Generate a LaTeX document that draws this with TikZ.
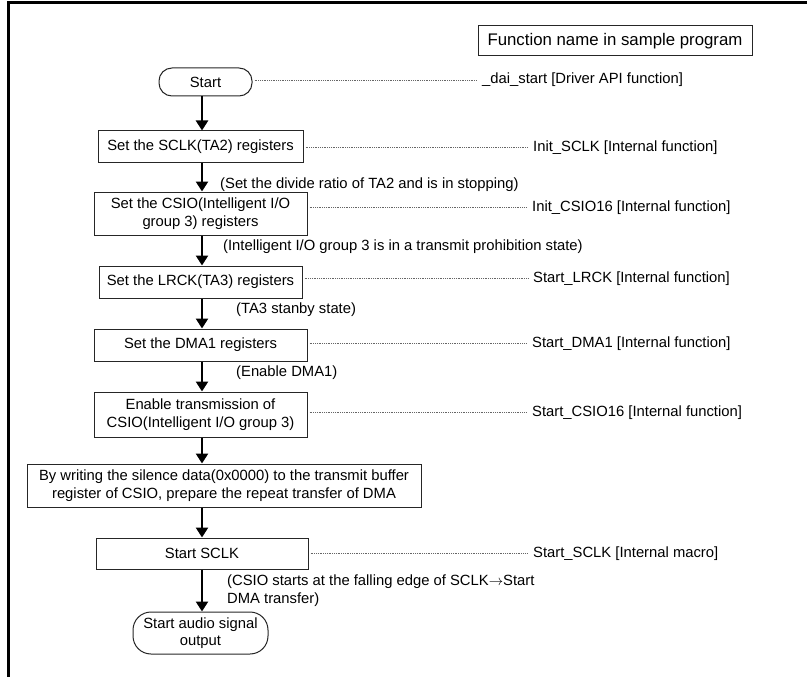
\documentclass[tikz,border=0pt]{standalone}
\usepackage{fontspec}
\setmainfont{Liberation Sans}
\usetikzlibrary{arrows.meta}
\newcommand\diagfont{\fontsize{14.8}{17.5}\selectfont}
\newcommand\legendfont{\fontsize{16.8}{20}\selectfont}
\begin{document}
\begin{tikzpicture}[x=1pt,y=-1pt,
  every node/.style={font=\diagfont, inner sep=0pt},
  stepbox/.style={draw=black!85, line width=1pt, align=center},
  termbox/.style={draw=black!85, line width=1pt, align=center},
  fname/.style={anchor=base west},
  note/.style={anchor=base west},
  flow/.style={line width=2.8pt, -{Triangle[length=10pt,width=12pt]}},
  leader/.style={draw=black!60, line width=0.6pt, dash pattern=on 0.7pt off 1.1pt,
                 shorten <=2pt, shorten >=5pt}]

\useasboundingbox (0,0) rectangle (807,677);
\clip (0,0) rectangle (807,677);

% outer frame (runs past the right and bottom edges)
\draw[line width=3pt] (8,3) rectangle (860,730);

% legend box
\node[draw=black!85, line width=1pt, minimum width=274pt, minimum height=30pt,
      font=\legendfont]
  (legend) at (615,41) {Function name in sample program};

% flow chart steps
\node[termbox, rounded corners=13pt, minimum width=93pt, minimum height=28pt]
  (start) at (205.5,82) {Start};
\node[stepbox, minimum width=205pt, minimum height=31pt]
  (sclk) at (200.5,146.5) {Set the SCLK(TA2) registers};
\node[stepbox, minimum width=213pt, minimum height=43pt]
  (csio) at (200.5,213.5) {Set the CSIO(Intelligent I/O\\group 3) registers};
\node[stepbox, minimum width=203pt, minimum height=32pt]
  (lrck) at (200.5,282) {Set the LRCK(TA3) registers};
\node[stepbox, minimum width=213pt, minimum height=32pt]
  (dma) at (200.5,345) {Set the DMA1 registers};
\node[stepbox, minimum width=213pt, minimum height=45pt]
  (enable) at (200.5,414.5) {Enable transmission of\\CSIO(Intelligent I/O group 3)};
\node[stepbox, minimum width=394pt, minimum height=43pt]
  (silence) at (224,485.5) {By writing the silence data(0x0000) to the transmit buffer\\register of CSIO, prepare the repeat transfer of DMA};
\node[stepbox, minimum width=212pt, minimum height=31pt]
  (startsclk) at (202,553.5) {Start SCLK};
\node[termbox, rounded corners=18pt, minimum width=135pt, minimum height=42pt]
  (output) at (200.5,633) {Start audio signal\\output};

% flow arrows
\coordinate (axis) at (202,0);
\draw[flow] (start.south -| axis) -- (sclk.north -| axis);
\draw[flow] (sclk.south -| axis) -- (csio.north -| axis);
\draw[flow] (csio.south -| axis) -- (lrck.north -| axis);
\draw[flow] (lrck.south -| axis) -- (dma.north -| axis);
\draw[flow] (dma.south -| axis) -- (enable.north -| axis);
\draw[flow] (enable.south -| axis) -- (silence.north -| axis);
\draw[flow] (silence.south -| axis) -- (startsclk.north -| axis);
\draw[flow] (startsclk.south -| axis) -- (output.north -| axis);

% state notes beside the arrows
\node[note] (n1) at (220,188) {(Set the divide ratio of TA2 and is in stopping)};
\node[note] (n2) at (223,250) {(Intelligent I/O group 3 is in a transmit prohibition state)};
\node[note] (n3) at (236,313) {(TA3 stanby state)};
\node[note] (n4) at (236,376) {(Enable DMA1)};
\node[anchor=north west, align=left] (n5) at (227,575)
  {(CSIO starts at the falling edge of SCLK$\rightarrow$Start\\DMA transfer)};

% function names
\node[fname] (f0) at (482,84) {\_dai\_start [Driver API function]};
\node[fname] (f1) at (533,151) {Init\_SCLK [Internal function]};
\node[fname] (f2) at (532,211) {Init\_CSIO16 [Internal function]};
\node[fname] (f3) at (533,282) {Start\_LRCK [Internal function]};
\node[fname] (f4) at (532,347) {Start\_DMA1 [Internal function]};
\node[fname] (f5) at (532,416) {Start\_CSIO16 [Internal function]};
\node[fname] (f6) at (533,557) {Start\_SCLK [Internal macro]};

% dotted leaders from each step to its function name
\draw[leader] (start.east |- f0.west) -- (f0.west);
\draw[leader] (sclk.east |- f1.west) -- (f1.west);
\draw[leader] (csio.east |- f2.west) -- (f2.west);
\draw[leader] (lrck.east |- f3.west) -- (f3.west);
\draw[leader] (dma.east |- f4.west) -- (f4.west);
\draw[leader] (enable.east |- f5.west) -- (f5.west);
\draw[leader] (startsclk.east |- f6.west) -- (f6.west);
\end{tikzpicture}
\end{document}
